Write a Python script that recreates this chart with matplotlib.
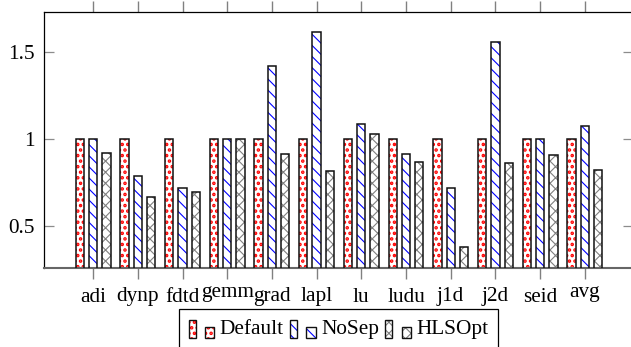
import matplotlib.pyplot as plt
from matplotlib.patches import Rectangle
from matplotlib.legend_handler import HandlerBase
from matplotlib.transforms import blended_transform_factory

benchmarks = ['adi', 'dynp', 'fdtd', 'gemm', 'grad', 'lapl', 'lu', 'ludu', 'j1d', 'j2d', 'seid', 'avg']
default = [1, 1, 1, 1, 1, 1, 1, 1, 1, 1, 1, 1]
nosep = [1.0, 0.79, 0.72, 1.0, 1.421, 1.615, 1.086, 0.912, 0.717, 1.559, 1.0, 1.075]
hlsopt = [0.921, 0.665, 0.694, 1.0, 0.912, 0.818, 1.031, 0.866, 0.378, 0.86, 0.91, 0.824]
yticks = [0.5, 1, 1.5]
ytick_labels = ['0.5', '1', '1.5']

plt.rcParams['font.family'] = ['Liberation Serif', 'DejaVu Serif']
plt.rcParams['font.size'] = 15.3

W, H = 631, 347
fig = plt.figure(figsize=(W / 100, H / 100), dpi=100)
ax = fig.add_axes([44 / W, 1 - 268 / H, (633 - 44) / W, (268 - 11.5) / H])

series = [
    ('Default', default, 'red', '...'),
    ('NoSep', nosep, 'blue', '\\\\\\'),
    ('HLSOpt', hlsopt, '#808080', 'xxx'),
]
pitch = 0.298
width = 0.186

def hatched(patch, lw):
    if hasattr(patch, 'set_hatch_linewidth'):
        patch.set_hatch_linewidth(lw)

for k, (name, vals, col, hat) in enumerate(series):
    xs = [i + (k - 1) * pitch for i in range(len(benchmarks))]
    hb = ax.bar(xs, vals, width, color='white', edgecolor=col, hatch=hat, linewidth=0, zorder=2)
    for p in hb:
        hatched(p, 1.7 if k == 0 else 0.8)
    ax.bar(xs, vals, width, color='none', edgecolor='#111111', linewidth=1.1, zorder=3)

ax.set_xlim(-1.10, 12.08)
ax.set_ylim(0.259, 1.733)
ax.set_xticks(range(len(benchmarks)))
ax.set_xticklabels([])
ax.set_yticks(yticks)
ax.set_yticklabels(ytick_labels)

ax.xaxis.set_ticks_position('both')
ax.yaxis.set_ticks_position('both')
ax.tick_params(axis='x', direction='out', length=8, width=1.0, color='#808080')
ax.tick_params(axis='y', direction='in', length=7.2, width=0.9, color='#8c8c8c', pad=6.5)
ax.spines['right'].set_visible(False)
ax.spines['bottom'].set_color('#666666')
ax.spines['bottom'].set_linewidth(1.5)
for s in ['top', 'left']:
    ax.spines[s].set_linewidth(0.9)

# x labels placed like pgfplots (labels without ascenders sit higher)
tr = blended_transform_factory(ax.transData, fig.transFigure)
for i, lab in enumerate(benchmarks):
    base = 297 if lab in ('gemm', 'avg') else 301.5
    fig.text(i, 1 - base / H, lab, transform=tr, ha='center', va='baseline')


class TwoBars(HandlerBase):
    def create_artists(self, legend, orig_handle, xdescent, ydescent,
                       width, height, fontsize, trans):
        col = orig_handle.get_edgecolor()
        hat = orig_handle.get_hatch()
        y0 = -0.2 * fontsize
        arts = []
        for x, w, h in [(0, 0.28 * width, 0.85 * fontsize), (0.64 * width, 0.36 * width, 0.52 * fontsize)]:
            r1 = Rectangle((x, y0), w, h, facecolor='white', edgecolor=col, hatch=hat,
                           linewidth=0, transform=trans)
            hatched(r1, 1.7 if hat == '...' else 0.8)
            r2 = Rectangle((x, y0), w, h, facecolor='none', edgecolor='#111111',
                           linewidth=1.0, transform=trans)
            arts += [r1, r2]
        return arts


handles = [Rectangle((0, 0), 1, 1, facecolor='white', edgecolor=c, hatch=h) for _, _, c, h in series]
leg = fig.legend(handles, [s[0] for s in series], loc='upper center',
                 bbox_to_anchor=(338.5 / W, 1 - 308.5 / H), ncol=3,
                 handler_map={Rectangle: TwoBars()}, handlelength=1.2, handleheight=0.9,
                 handletextpad=0.25, columnspacing=0.3, borderpad=0.45, borderaxespad=0,
                 fancybox=False, framealpha=1, edgecolor='black')
leg.get_frame().set_linewidth(0.9)

fig.savefig('out.png', dpi=100)
